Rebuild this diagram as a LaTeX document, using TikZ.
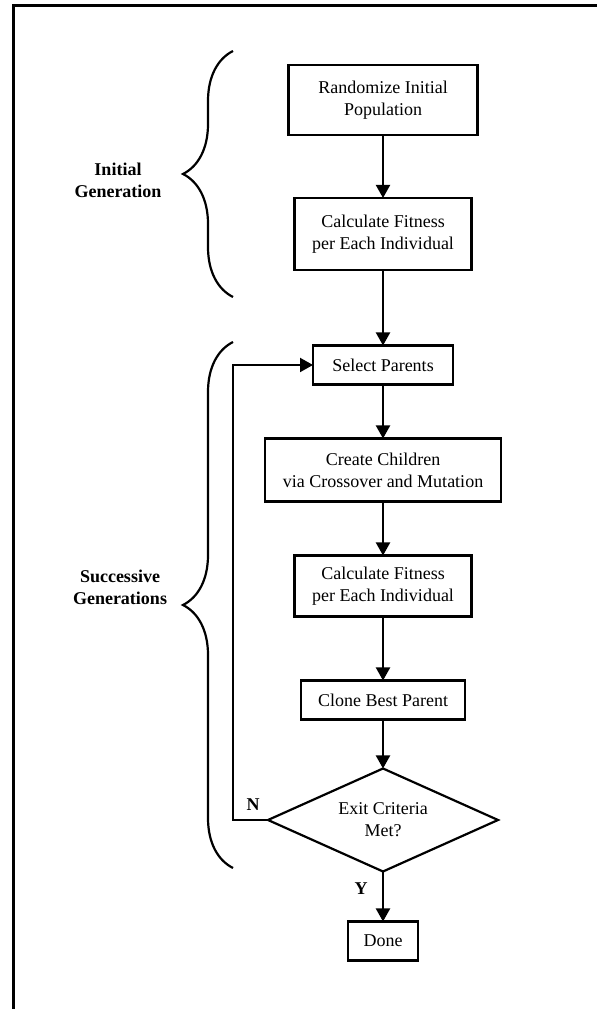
\documentclass[tikz,border=0pt]{standalone}
\usepackage{fontspec}
\setmainfont{Liberation Serif}
\usetikzlibrary{arrows.meta,shapes.geometric,decorations.pathreplacing}
\tikzset{every picture/.style={/utils/exec={\fontsize{18}{22}\selectfont}}}
\begin{document}
\begin{tikzpicture}[x=1pt,y=1pt,
  stepbox/.style={draw=drawColor,line width=2.2pt,fill=fillColor,align=center,inner sep=0pt,outer sep=0pt},
  decisionbox/.style={diamond,draw=drawColor,line width=2.2pt,fill=fillColor,align=center,inner sep=0pt,outer sep=0pt,aspect=2.23,minimum width=230pt,minimum height=103pt},
  flowline/.style={draw=drawColor,line width=2pt,-{Triangle[width=14pt,length=13pt]}},
  bracemark/.style={draw=drawColor,line width=2.2pt,decorate,decoration={brace,amplitude=50pt}},
  grouplabel/.style={text=drawColor,font=\bfseries,align=center,inner sep=0pt},
  branchlabel/.style={text=drawColor,font=\bfseries,inner sep=0pt}]
\definecolor{drawColor}{RGB}{0,0,0}
\definecolor{fillColor}{RGB}{255,255,255}
\path[use as bounding box,fill=fillColor] (0,0) rectangle (597,1009);
\path[draw=drawColor,line width=3pt] (13.5,0) -- (13.5,1003.5) -- (597,1003.5);

\node[stepbox,minimum width=189pt,minimum height=70pt] (randomize) at (383,909) {Randomize Initial\\Population};
\node[stepbox,minimum width=177pt,minimum height=72pt] (fitnessInit) at (383,775) {Calculate Fitness\\per Each Individual};
\node[stepbox,minimum width=140pt,minimum height=39pt] (select) at (383,644) {Select Parents};
\node[stepbox,minimum width=236pt,minimum height=63pt] (children) at (383,539) {Create Children\\via Crossover and Mutation};
\node[stepbox,minimum width=177pt,minimum height=61pt] (fitnessNext) at (383,423) {Calculate Fitness\\per Each Individual};
\node[stepbox,minimum width=164pt,minimum height=39pt] (clone) at (383,309) {Clone Best Parent};
\node[decisionbox] (exit) at (383,189) {Exit Criteria\\Met?};
\node[stepbox,minimum width=70pt,minimum height=39pt] (done) at (383,68) {Done};

\path[flowline] (randomize.south) -- (fitnessInit.north);
\path[flowline] (fitnessInit.south) -- (select.north);
\path[flowline] (select.south) -- (children.north);
\path[flowline] (children.south) -- (fitnessNext.north);
\path[flowline] (fitnessNext.south) -- (clone.north);
\path[flowline] (clone.south) -- (exit.north);
\path[flowline] (exit.south) -- (done.north);
\coordinate (loopturn) at (233,189);
\path[flowline] (exit.west) -- (loopturn) |- (select.west);

\node[branchlabel] (nolabel) at (253,204) {N};
\node[branchlabel] (yeslabel) at (361,120) {Y};

\coordinate (initialLow) at (233,712);
\coordinate (initialHigh) at (233,958);
\coordinate (successiveLow) at (233,141);
\coordinate (successiveHigh) at (233,667);
\path[bracemark] (initialLow) -- (initialHigh);
\path[bracemark] (successiveLow) -- (successiveHigh);

\node[grouplabel] (initialText) at (118,829) {Initial\\Generation};
\node[grouplabel] (successiveText) at (120,422) {Successive\\Generations};
\end{tikzpicture}
\end{document}
